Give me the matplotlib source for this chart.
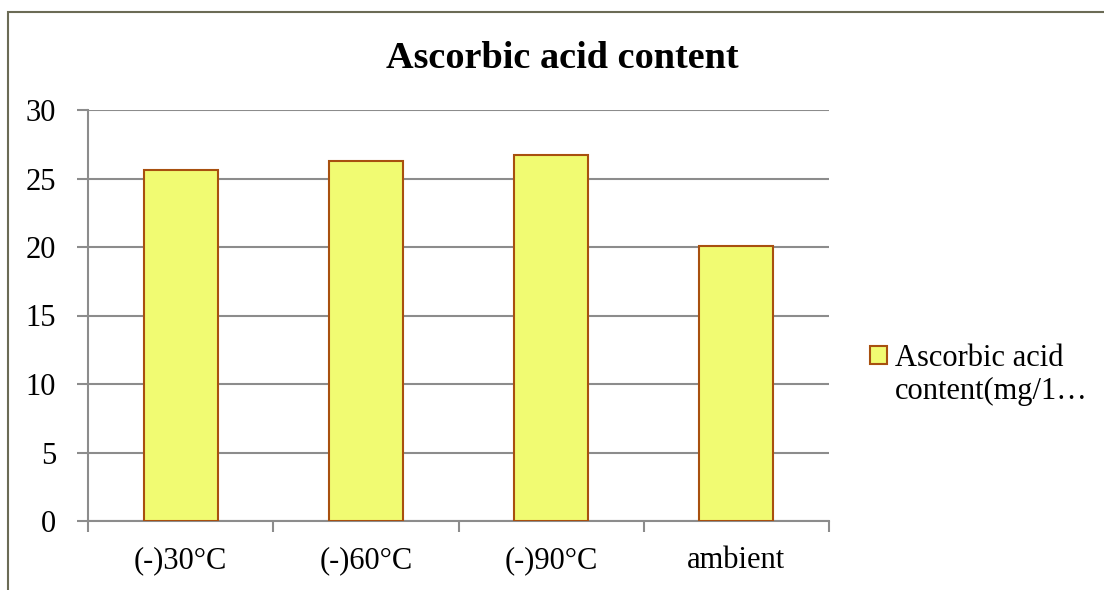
import matplotlib
matplotlib.use("Agg")
import matplotlib.pyplot as plt
from matplotlib.patches import Rectangle

categories = ["(-)30°C", "(-)60°C", "(-)90°C", "ambient"]
values = [25.6, 26.3, 26.75, 20.1]
yticks = [0, 5, 10, 15, 20, 25, 30]
title = "Ascorbic acid content"
legend_lines = ["Ascorbic acid", "content(mg/1…"]

plt.rcParams['font.family'] = ['Liberation Serif', 'DejaVu Serif']

fig = plt.figure(figsize=(11.04, 5.90), dpi=100)
W, H = 1104, 590
ax = fig.add_axes([88 / W, 1 - 521 / H, (829 - 88) / W, (521 - 110) / H])

# outer frame
fig.patches.append(Rectangle((8 / W, -0.05), 1.2, 1 - 12 / H + 0.05, transform=fig.transFigure,
                             fill=False, edgecolor='#6b6b55', linewidth=1.5, zorder=0))

fill = '#F1FB72'
edge = '#A8500F'
x = list(range(len(categories)))
bars = ax.bar(x, values, width=0.4, color=fill, edgecolor=edge, linewidth=1.5, zorder=3)

ax.set_xlim(-0.5, len(categories) - 0.5)
ax.set_ylim(0, 30)
ax.set_yticks(yticks)
ax.set_xticks(x)
ax.set_xticklabels(categories)
ax.set_xticks([i - 0.5 for i in range(len(categories) + 1)], minor=True)

gray = '#8c8c8c'
ax.yaxis.grid(True, color=gray, linewidth=1.5, zorder=0)
ax.set_axisbelow(True)
for s in ['top', 'right']:
    ax.spines[s].set_visible(False)
for s in ['left', 'bottom']:
    ax.spines[s].set_color(gray)
    ax.spines[s].set_linewidth(1.5)

ax.tick_params(axis='y', which='major', length=8, width=1.5, color=gray, labelsize=22, pad=15)
ax.tick_params(axis='x', which='major', length=0, labelsize=22, pad=18)
ax.tick_params(axis='x', which='minor', length=8, width=1.5, color=gray)

fig.text(562 / W, 1 - 68 / H, title, fontsize=27.5, fontweight='bold', ha='center', va='baseline')

blank = Rectangle((0, 0), 1, 1, visible=False)
leg = ax.legend([bars, blank], legend_lines, loc='center left',
                bbox_to_anchor=(1.055, 0.355), frameon=False,
                fontsize=22, handlelength=0.55, handleheight=0.55, handletextpad=0.28,
                labelspacing=0.15, borderaxespad=0, borderpad=0)

fig.savefig("out.png", dpi=100)
